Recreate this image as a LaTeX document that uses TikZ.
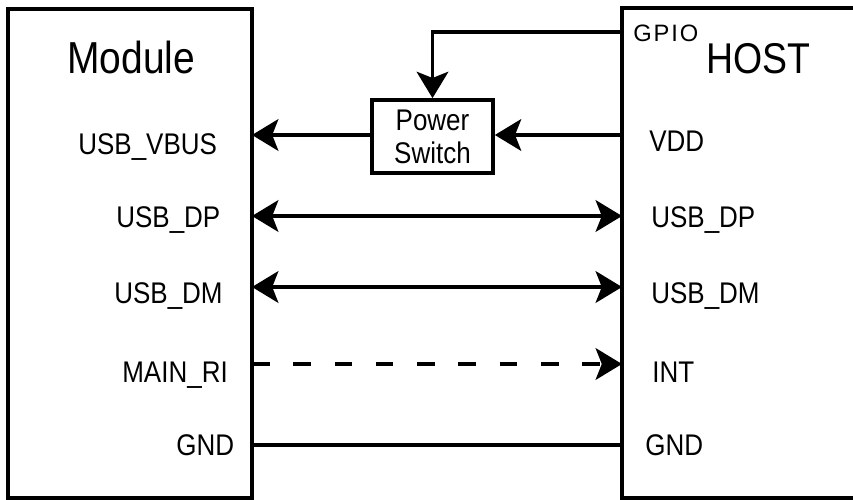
\documentclass[tikz,border=0pt]{standalone}
\usepackage{fontspec}
\setmainfont{Liberation Sans}[FakeStretch=0.87]
\newfontfamily\gpiofont{Liberation Sans}[LetterSpace=8]
\usetikzlibrary{arrows.meta,positioning}
\tikzset{
  blk/.style={draw, line width=2.1pt, inner sep=0pt},
  pinlbl/.style={font=\fontsize{17}{17}\selectfont, inner sep=0pt, anchor=base west},
  sig/.style={line width=2.1pt},
  tip/.style={-{Stealth[length=15pt,width=18pt,inset=3.5pt]}},
  tips/.style={{Stealth[length=15pt,width=18pt,inset=3.5pt]}-{Stealth[length=15pt,width=18pt,inset=3.5pt]}},
}

\begin{document}
\begin{tikzpicture}[x=0.02cm, y=-0.02cm]
  \useasboundingbox (0,0) rectangle (853,500);
  \clip (0,0) rectangle (853,500);

  % blocks
  \node[blk, minimum width=4.88cm, minimum height=9.78cm] (mod) at (130,253.5) {};
  \node[blk, minimum width=5.56cm, minimum height=9.8cm] (host) at (761,253) {};
  \node[blk, minimum width=2.42cm, minimum height=1.46cm, align=center,
        font=\fontsize{17}{18.7}\selectfont] (psw) at (432.5,136.5) {Power\\Switch};

  % titles
  \node[inner sep=0pt, anchor=base west, font=\fontsize{25.5}{25.5}\selectfont] (modttl) at (67,74) {Module};
  \node[inner sep=0pt, anchor=base west, font=\fontsize{24.5}{24.5}\selectfont] (hostttl) at (706,74) {HOST};
  \node[inner sep=0pt, anchor=base west, font=\gpiofont\fontsize{13.5}{13.5}\selectfont] (gpio) at (633,42) {GPIO};

  % module pins
  \node[pinlbl] (mvbus) at (78,155) {USB\_VBUS};
  \node[pinlbl] (mdp)   at (116,228) {USB\_DP};
  \node[pinlbl] (mdm)   at (114,303) {USB\_DM};
  \node[pinlbl] (mri)   at (122,382) {MAIN\_RI};
  \node[pinlbl] (mgnd)  at (176,455) {GND};

  % host pins
  \node[pinlbl] (hvdd) at (649,152) {VDD};
  \node[pinlbl] (hdp)  at (651,228) {USB\_DP};
  \node[pinlbl] (hdm)  at (651,303) {USB\_DM};
  \node[pinlbl] (hint) at (652,382) {INT};
  \node[pinlbl] (hgnd) at (645,455) {GND};

  % pin points on the block edges
  \coordinate (pMVbus) at (252,135);
  \coordinate (pMDp)   at (252,216);
  \coordinate (pMDm)   at (252,287);
  \coordinate (pMRi)   at (252,364);
  \coordinate (pMGnd)  at (252,445);
  \coordinate (pHGpio) at (622,32);
  \coordinate (pHVdd)  at (622,135);
  \coordinate (pHDp)   at (622,216);
  \coordinate (pHDm)   at (622,287);
  \coordinate (pHInt)  at (622,364);
  \coordinate (pHGnd)  at (622,445);

  % connections
  \draw[sig, tip] (pHGpio) -| (psw.north);
  \draw[sig, tip] (pHVdd) -- (psw.east |- pHVdd);
  \draw[sig, tip] (psw.west |- pMVbus) -- (pMVbus);
  \draw[sig, tips] (pMDp) -- (pHDp);
  \draw[sig, tips] (pMDm) -- (pHDm);
  \draw[sig, tip, dash pattern=on 10pt off 13.5pt] (pMRi) -- (pHInt);
  \draw[sig] (pMGnd) -- (pHGnd);
\end{tikzpicture}
\end{document}
